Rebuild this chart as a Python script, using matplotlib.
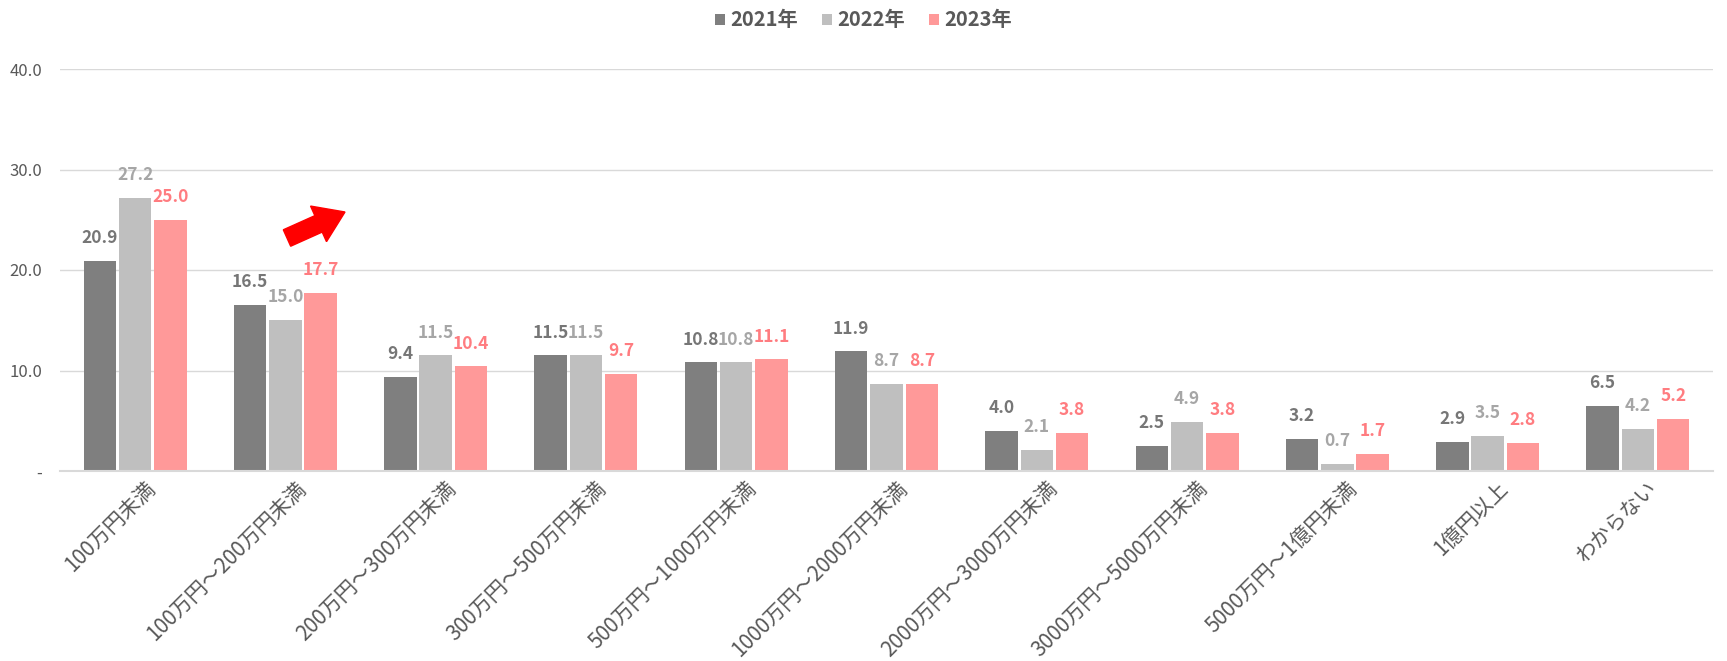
import matplotlib
matplotlib.use("Agg")
import matplotlib.pyplot as plt
import matplotlib.transforms as mtransforms
from matplotlib.patches import FancyArrow
import numpy as np

plt.rcParams['font.family'] = ['Noto Sans CJK JP', 'DejaVu Sans']

categories = ["100万円未満", "100万円～200万円未満", "200万円～300万円未満", "300万円～500万円未満",
              "500万円～1000万円未満", "1000万円～2000万円未満", "2000万円～3000万円未満",
              "3000万円～5000万円未満", "5000万円～1億円未満", "1億円以上", "わからない"]
series_names = ["2021年", "2022年", "2023年"]
v2021 = [20.9, 16.5, 9.4, 11.5, 10.8, 11.9, 4.0, 2.5, 3.2, 2.9, 6.5]
v2022 = [27.2, 15.0, 11.5, 11.5, 10.8, 8.7, 2.1, 4.9, 0.7, 3.5, 4.2]
v2023 = [25.0, 17.7, 10.4, 9.7, 11.1, 8.7, 3.8, 3.8, 1.7, 2.8, 5.2]
yticks = [0, 10, 20, 30, 40]
ytick_labels = ["-", "10.0", "20.0", "30.0", "40.0"]

bar_colors = ["#7f7f7f", "#bfbfbf", "#ff9999"]
label_colors = ["#767676", "#a6a6a6", "#ff7c80"]
text_color = "#595959"
grid_color = "#d9d9d9"

fig = plt.figure(figsize=(17.27, 6.61), dpi=100)
ax = fig.add_axes([60/1727, 1 - 471/661, (1713-60)/1727, (471-69)/661])

x = np.arange(len(categories))
width = 0.216
pitch = 0.235
bars = []
for i, (vals, c, lc) in enumerate(zip([v2021, v2022, v2023], bar_colors, label_colors)):
    b = ax.bar(x + (i - 1) * pitch, vals, width, color=c, label=series_names[i], zorder=3)
    bars.append(b)
    ax.bar_label(b, labels=[f"{v:.1f}" for v in vals], padding=10, color=lc,
                 fontsize=12.5, fontweight='bold', zorder=4)

ax.set_xlim(-0.5, len(categories) - 0.5)
ax.set_ylim(0, 40)
ax.set_yticks(yticks)
ax.set_yticklabels(ytick_labels)
ax.yaxis.grid(True, color=grid_color, linewidth=1, zorder=0)
ax.set_axisbelow(True)
for s in ["top", "right", "left"]:
    ax.spines[s].set_visible(False)
ax.spines["bottom"].set_color(grid_color)
ax.spines["bottom"].set_linewidth(1.5)
ax.spines["bottom"].set_zorder(5)
ax.tick_params(axis='y', length=0, pad=13, labelsize=12, labelcolor=text_color)
ax.tick_params(axis='x', length=0, pad=10, labelsize=15, labelcolor=text_color)

ax.set_xticks(x)
ax.set_xticklabels(categories, rotation=45, ha='right', va='center', rotation_mode='anchor')
offset = mtransforms.ScaledTranslation(0.17, 0, fig.dpi_scale_trans)
for lbl in ax.get_xticklabels():
    lbl.set_transform(lbl.get_transform() + offset)

leg = fig.legend(handles=bars, labels=series_names, loc='center', bbox_to_anchor=(0.5, 1 - 20/661),
                 ncol=3, frameon=False, handlelength=0.5, handleheight=0.5, handletextpad=0.25,
                 columnspacing=1.2, prop={'size': 14.5, 'weight': 'bold'})
for t in leg.get_texts():
    t.set_color(text_color)

# red arrow (figure pixels, origin bottom-left)
H = 661
arrow = FancyArrow(287, H - 238, 58, 26, width=18, head_width=39, head_length=29,
                   length_includes_head=True, color='#ff0000', transform=mtransforms.IdentityTransform())
fig.patches.append(arrow)

fig.savefig("out.png", dpi=100)
